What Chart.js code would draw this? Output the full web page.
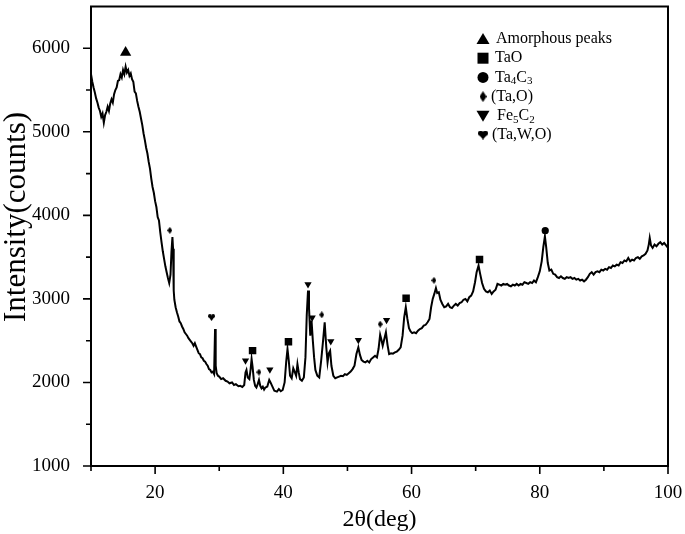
<!DOCTYPE html>
<html>
<head>
<meta charset="utf-8">
<script src="https://cdn.jsdelivr.net/npm/chart.js@4.4.0/dist/chart.umd.min.js"></script>
<style>
html,body{margin:0;padding:0;background:#fff;}
#wrap{width:685px;height:534px;position:relative;}
</style>
</head>
<body>
<div id="wrap"><canvas id="c" width="685" height="534"></canvas></div>
<script>
// ---- data ----
const twoTheta = [
10.0,10.2,10.4,10.6,10.8,11.0,11.2,11.4,11.6,11.8,
12.0,12.2,12.4,12.6,12.8,13.0,13.2,13.4,13.6,13.8,
14.0,14.2,14.4,14.6,14.8,15.0,15.2,15.4,15.6,15.8,
16.0,16.2,16.4,16.6,16.8,17.0,17.2,17.4,17.6,17.8,
18.0,18.2,18.4,18.6,18.8,19.0,19.2,19.4,19.6,19.8,
20.0,20.2,20.4,20.6,20.8,21.0,21.2,21.4,21.6,21.8,
22.0,22.2,22.4,22.55,22.7,22.8,22.9,23.0,23.2,23.4,
23.6,23.8,24.0,24.2,24.4,24.6,24.8,25.0,25.2,25.4,
25.6,25.8,26.0,26.2,26.4,26.6,26.8,27.0,27.2,27.4,
27.6,27.8,28.0,28.2,28.4,28.6,28.8,29.0,29.2,29.35,
29.45,29.6,29.8,30.0,30.3,30.6,31.0,31.3,31.6,32.0,
32.3,32.6,33.0,33.3,33.6,33.9,34.1,34.25,34.45,34.7,
34.9,35.05,35.2,35.4,35.6,35.8,36.0,36.2,36.4,36.6,
36.8,37.0,37.2,37.5,37.8,38.0,38.3,38.6,39.0,39.3,
39.6,39.9,40.2,40.45,40.65,40.85,41.05,41.3,41.55,41.8,
42.0,42.2,42.4,42.6,42.9,43.2,43.45,43.65,43.85,44.0,
44.2,44.4,44.6,44.8,45.0,45.3,45.6,45.9,46.2,46.45,
46.7,46.9,47.1,47.3,47.5,47.8,48.1,48.4,48.7,49.0,
49.3,49.6,49.9,50.2,50.5,50.8,51.1,51.4,51.7,51.95,
52.2,52.5,52.8,53.1,53.4,53.7,54.0,54.3,54.6,54.85,
55.1,55.3,55.5,55.75,56.0,56.25,56.5,56.8,57.1,57.4,
57.7,58.0,58.3,58.6,58.85,59.1,59.35,59.6,59.85,60.1,
60.4,60.7,61.0,61.3,61.6,61.9,62.2,62.5,62.8,63.05,
63.3,63.55,63.8,64.0,64.25,64.5,64.8,65.1,65.4,65.7,
66.0,66.3,66.6,66.9,67.2,67.5,67.8,68.1,68.4,68.7,
69.0,69.3,69.6,69.9,70.15,70.45,70.7,71.0,71.3,71.6,
71.9,72.2,72.5,72.8,73.1,73.4,73.7,74.0,74.3,74.6,
74.9,75.2,75.5,75.8,76.1,76.4,76.7,77.0,77.3,77.6,
77.9,78.2,78.5,78.8,79.1,79.4,79.7,80.0,80.3,80.55,
80.8,81.0,81.25,81.5,81.8,82.1,82.4,82.7,83.0,83.3,
83.6,83.9,84.2,84.5,84.8,85.1,85.4,85.7,86.0,86.3,
86.6,86.9,87.2,87.5,87.8,88.1,88.4,88.7,89.0,89.3,
89.6,89.9,90.2,90.5,90.8,91.1,91.4,91.7,92.0,92.3,
92.6,92.9,93.2,93.5,93.8,94.1,94.4,94.7,95.0,95.3,
95.6,95.9,96.2,96.5,96.8,97.0,97.15,97.35,97.6,97.9,
98.2,98.5,98.8,99.1,99.4,99.7,100.0
];
const intensity = [
5690,5600,5530,5470,5400,5350,5290,5250,5180,5220,
5110,5200,5240,5300,5250,5340,5390,5350,5450,5500,
5530,5610,5620,5690,5650,5740,5690,5780,5710,5740,
5670,5700,5630,5600,5480,5460,5370,5300,5240,5160,
5080,4980,4900,4810,4740,4640,4560,4440,4340,4270,
4170,4100,3980,3940,3800,3680,3570,3480,3390,3320,
3250,3190,3290,3560,3740,3600,3100,2990,2900,2840,
2790,2730,2710,2670,2640,2600,2580,2560,2530,2510,
2490,2470,2440,2470,2430,2390,2350,2340,2300,2290,
2260,2250,2220,2200,2160,2150,2120,2130,2100,2640,
2200,2110,2080,2070,2040,2050,2020,2010,1990,2000,
1970,1980,1955,1960,1945,1970,2120,2150,2060,2040,
2160,2280,2190,2030,1960,1940,1980,2030,1960,1930,
1950,1915,1940,1950,2030,2000,1950,1900,1890,1920,
1895,1910,2000,2250,2400,2260,2080,2050,2170,2120,
2080,2220,2120,2040,2020,2060,2300,2800,3100,2900,
2560,2740,2500,2300,2150,2080,2060,2260,2500,2720,
2420,2240,2350,2380,2200,2080,2050,2060,2070,2080,
2075,2100,2090,2110,2130,2160,2200,2340,2420,2330,
2270,2250,2240,2260,2240,2280,2300,2320,2300,2400,
2570,2510,2440,2520,2600,2450,2340,2350,2345,2360,
2370,2390,2420,2560,2780,2900,2760,2650,2610,2590,
2600,2590,2620,2640,2650,2680,2690,2720,2760,2900,
3000,3060,3130,3070,3080,2990,2940,2900,2910,2940,
2900,2890,2920,2940,2920,2950,2960,2990,3000,2970,
3020,3040,3090,3200,3320,3400,3300,3190,3120,3090,
3080,3100,3060,3090,3110,3180,3170,3160,3180,3170,
3180,3160,3150,3170,3160,3180,3160,3180,3170,3200,
3190,3180,3200,3190,3220,3200,3260,3330,3450,3620,
3750,3620,3430,3340,3350,3300,3290,3260,3250,3270,
3250,3240,3260,3250,3260,3240,3250,3230,3240,3220,
3230,3210,3230,3260,3300,3320,3290,3320,3330,3320,
3350,3340,3360,3350,3380,3370,3400,3390,3410,3400,
3440,3430,3460,3450,3490,3450,3470,3460,3490,3500,
3480,3510,3520,3540,3580,3650,3730,3640,3610,3650,
3630,3660,3680,3650,3670,3640,3610
];

// phase marker positions (2θ, intensity where the symbol sits)
const amorphousX = [15.4];
const amorphousY = [5950];
const taoX = [35.2, 40.8, 59.15, 70.6];
const taoY = [2381, 2488, 3008, 3472];
const ta4c3X = [80.85];
const ta4c3Y = [3817];
const taOX = [22.3, 36.2, 46.0, 55.1, 63.5];
const taOY = [3821, 2123, 2810, 2698, 3222];
const fe5c2X = [34.1, 37.9, 43.85, 44.5, 47.4, 51.7, 56.1];
const fe5c2Y = [2262, 2155, 3175, 2777, 2492, 2508, 2746];
const tawoX = [28.8];
const tawoY = [2777];

const legendLabels = ['Amorphous peaks', 'TaO', 'Ta_4C_3', '(Ta,O)', 'Fe_5C_2', '(Ta,W,O)'];
const xTickValues = [20, 40, 60, 80, 100];
const yTickValues = [1000, 2000, 3000, 4000, 5000, 6000];
const xTitle = '2θ(deg)';
const yTitle = 'Intensity(counts)';

// ---- helpers ----
const SERIF = '"Liberation Serif", "Times New Roman", serif';
function pairs(xs, ys) { return xs.map((x, i) => ({x: x, y: ys[i]})); }

function diamondCanvas(w, h) {
  const c = document.createElement('canvas'); c.width = w; c.height = h;
  const g = c.getContext('2d'); g.fillStyle = '#000';
  g.beginPath(); g.moveTo(w/2, 0); g.lineTo(w, h/2); g.lineTo(w/2, h); g.lineTo(0, h/2); g.closePath(); g.fill();
  return c;
}
function heartCanvas(w, h) {
  const c = document.createElement('canvas'); c.width = w; c.height = h;
  const g = c.getContext('2d'); g.fillStyle = '#000';
  const r = w * 0.27;
  g.beginPath(); g.arc(r, r, r, 0, Math.PI * 2); g.fill();
  g.beginPath(); g.arc(w - r, r, r, 0, Math.PI * 2); g.fill();
  g.beginPath(); g.moveTo(0.03 * w, r * 1.25); g.lineTo(w / 2, h); g.lineTo(0.97 * w, r * 1.25); g.lineTo(w/2, r); g.closePath(); g.fill();
  return c;
}
const diamondSmall = diamondCanvas(5, 7);
const heartSmall = heartCanvas(7, 7);
const diamondBig = diamondCanvas(7, 11);
const heartBig = heartCanvas(10, 9);

function markerSet(label, xs, ys, style, radius, rotation) {
  return {
    type: 'scatter', label: label, data: pairs(xs, ys),
    pointStyle: style, pointRadius: radius, pointRotation: rotation || 0,
    pointBackgroundColor: '#000', pointBorderColor: '#000', pointBorderWidth: 0,
    pointHoverRadius: radius
  };
}

// ---- frame + custom ticks + y title ----
const axisFrame = {
  id: 'axisFrame',
  afterDatasetsDraw(chart) {
    const {ctx, chartArea: a, scales: {x, y}} = chart;
    ctx.save();
    ctx.strokeStyle = '#000';
    ctx.lineWidth = 2;
    ctx.strokeRect(a.left, a.top, a.right - a.left, a.bottom - a.top);
    ctx.lineWidth = 1.6;
    ctx.beginPath();
    x.ticks.forEach(t => {
      const px = x.getPixelForValue(t.value);
      const len = xTickValues.includes(t.value) ? 8 : 5;
      ctx.moveTo(px, a.bottom); ctx.lineTo(px, a.bottom + len);
    });
    y.ticks.forEach(t => {
      if (t.value > 6000) return;
      const py = y.getPixelForValue(t.value);
      const len = yTickValues.includes(t.value) ? 8 : 5;
      ctx.moveTo(a.left, py); ctx.lineTo(a.left - len, py);
    });
    ctx.stroke();
    // y axis title, centred where the reference places it
    ctx.translate(17, 217);
    ctx.rotate(-Math.PI / 2);
    ctx.fillStyle = '#000';
    ctx.font = '31px ' + SERIF;
    ctx.textAlign = 'center';
    ctx.textBaseline = 'middle';
    ctx.fillText(yTitle, 0, 0);
    ctx.restore();
  }
};

// ---- legend drawn inside the plot ----
const phaseLegend = {
  id: 'phaseLegend',
  afterDraw(chart) {
    const ctx = chart.ctx;
    const x0 = 483, y0 = 39, dy = 19.2;
    const textX = [496, 495, 495, 491, 497, 492];
    ctx.save();
    ctx.fillStyle = '#000';
    ctx.textBaseline = 'middle';
    legendLabels.forEach((lab, i) => {
      const cy = y0 + i * dy;
      ctx.beginPath();
      if (i === 0) { ctx.moveTo(x0, cy - 6); ctx.lineTo(x0 + 6.5, cy + 5); ctx.lineTo(x0 - 6.5, cy + 5); ctx.closePath(); ctx.fill(); }
      else if (i === 1) { ctx.fillRect(x0 - 5.5, cy - 5.5, 11, 11); }
      else if (i === 2) { ctx.arc(x0, cy, 5.5, 0, Math.PI * 2); ctx.fill(); }
      else if (i === 3) { ctx.drawImage(diamondBig, x0 - 3.5, cy - 5.5); }
      else if (i === 4) { ctx.moveTo(x0 - 6.5, cy - 5); ctx.lineTo(x0 + 6.5, cy - 5); ctx.lineTo(x0, cy + 6); ctx.closePath(); ctx.fill(); }
      else { ctx.drawImage(heartBig, x0 - 5, cy - 4.5); }
      let tx = textX[i];
      const parts = lab.split(/(_\d)/);
      parts.forEach(p => {
        if (!p) return;
        if (p[0] === '_') {
          ctx.font = '11px ' + SERIF;
          ctx.fillText(p.slice(1), tx, cy + 4);
          tx += ctx.measureText(p.slice(1)).width;
        } else {
          ctx.font = '16px ' + SERIF;
          ctx.fillText(p, tx, cy);
          tx += ctx.measureText(p).width;
        }
      });
    });
    ctx.restore();
  }
};

new Chart(document.getElementById('c'), {
  data: {
    datasets: [
      {
        type: 'line', label: 'XRD', data: pairs(twoTheta, intensity),
        borderColor: '#000', borderWidth: 2, pointRadius: 0, tension: 0, fill: false,
        borderJoinStyle: 'miter'
      },
      markerSet('Amorphous peaks', amorphousX, amorphousY, 'triangle', 6.5),
      markerSet('TaO', taoX, taoY, 'rect', 5.3),
      markerSet('Ta4C3', ta4c3X, ta4c3Y, 'circle', 3.6),
      markerSet('(Ta,O)', taOX, taOY, diamondSmall, 3),
      markerSet('Fe5C2', fe5c2X, fe5c2Y, 'triangle', 4.2, 180),
      markerSet('(Ta,W,O)', tawoX, tawoY, heartSmall, 3)
    ]
  },
  options: {
    responsive: false,
    animation: false,
    events: [],
    layout: { padding: { top: 3, right: 17, left: 0, bottom: 0 } },
    plugins: { legend: { display: false }, tooltip: { enabled: false } },
    scales: {
      x: {
        type: 'linear', min: 10, max: 100,
        grid: { display: false }, border: { display: false },
        ticks: {
          stepSize: 10, autoSkip: false, maxRotation: 0, padding: 8,
          color: '#000', font: { family: SERIF, size: 19 },
          callback: v => xTickValues.includes(v) ? String(v) : ''
        },
        title: { display: true, text: xTitle, color: '#000',
                 font: { family: SERIF, size: 24, lineHeight: 1 }, padding: { top: 0, bottom: 2 } },
        afterFit: s => { s.height = 68; s.paddingLeft = 0; s.paddingRight = 0; }
      },
      y: {
        type: 'linear', min: 1000, max: 6500,
        grid: { display: false }, border: { display: false },
        ticks: {
          stepSize: 500, autoSkip: false, padding: 13,
          color: '#000', font: { family: SERIF, size: 19 },
          callback: v => yTickValues.includes(v) ? String(v) : ''
        },
        title: { display: false },
        afterFit: s => { s.width = 91; s.paddingTop = 0; s.paddingBottom = 0; }
      }
    }
  },
  plugins: [axisFrame, phaseLegend]
});
</script>
</body>
</html>
